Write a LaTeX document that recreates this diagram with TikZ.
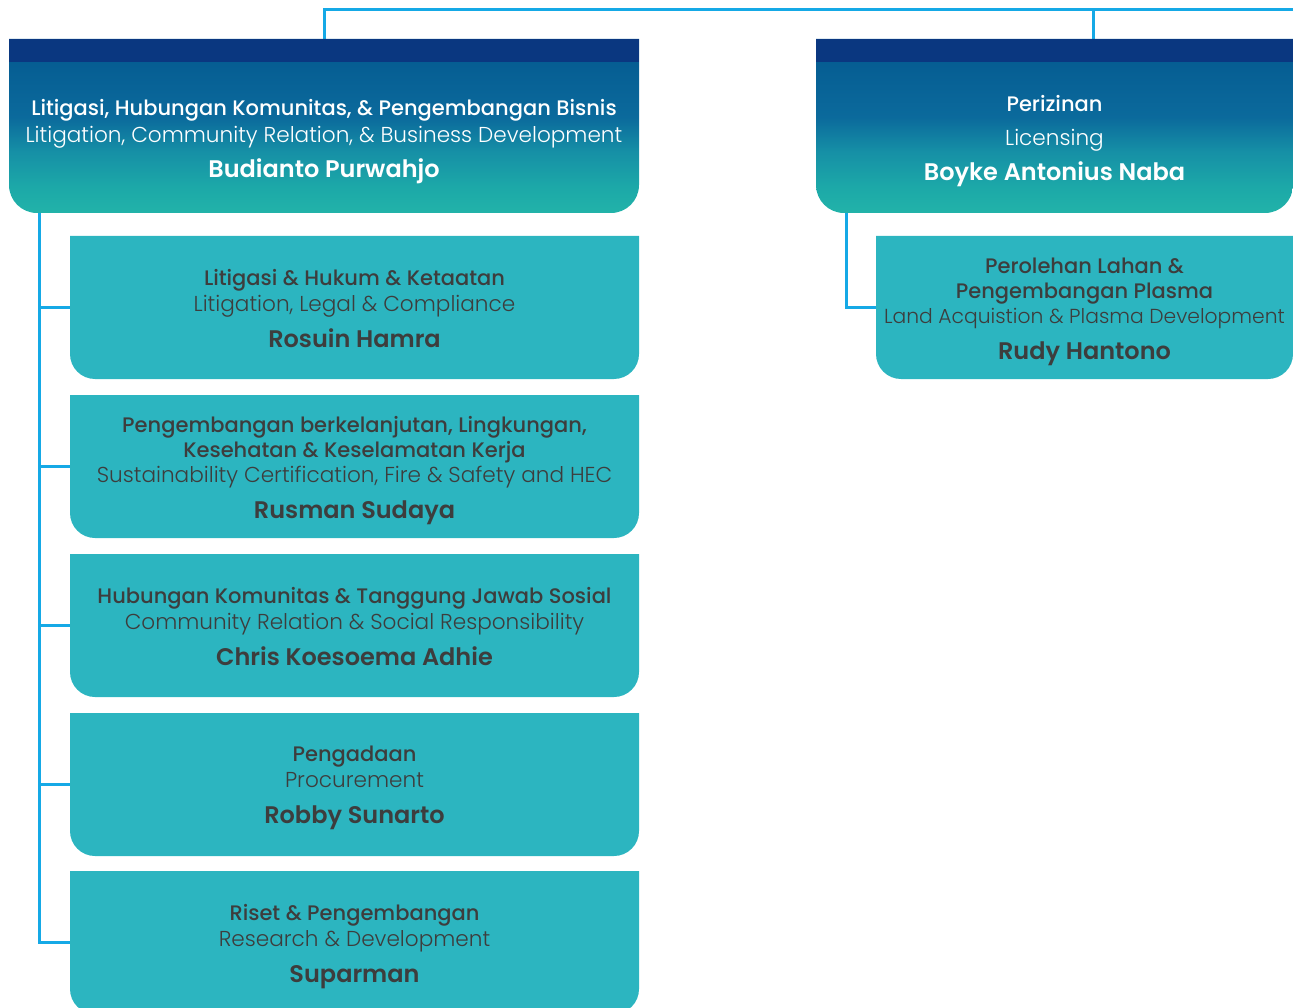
\documentclass[tikz,border=0pt]{standalone}
\usepackage{fontspec}
\newfontfamily\fmed{Poppins Medium}
\newfontfamily\flight{Poppins Light}
\newfontfamily\fbold{Poppins SemiBold}
\definecolor{lineblue}{HTML}{15A9E6}
\definecolor{boxteal}{HTML}{2CB5C0}
\definecolor{txtgray}{HTML}{3D3D3D}
\definecolor{navy}{HTML}{0A3780}
\definecolor{ga}{HTML}{03588F}
\definecolor{gb}{HTML}{0B6A9C}
\definecolor{gc}{HTML}{1690A6}
\definecolor{gd}{HTML}{1CA8A8}
\definecolor{ge}{HTML}{22B3A9}
\pgfdeclareverticalshading{hdrshade}{100bp}{color(0bp)=(ge); color(25bp)=(ge); color(32.6bp)=(gd); color(42.5bp)=(gc); color(52.5bp)=(gb); color(75bp)=(ga); color(100bp)=(ga)}
\newcommand\botround[3]{\path[#3] (#1.north west) -- (#1.north east) -- ([yshift=#2]#1.south east) arc[start angle=0,end angle=-90,radius=#2] -- ([xshift=#2]#1.south west) arc[start angle=-90,end angle=-180,radius=#2] -- cycle;}
\tikzset{
  conn/.style={draw=lineblue, line width=3pt},
  boxnode/.style 2 args={inner sep=0pt, outer sep=0pt, minimum width=#1, minimum height=#2},
  tone/.style={anchor=base, font=\fmed\fontsize{21}{21}\selectfont},
  ttwo/.style={anchor=base, font=\flight\fontsize{21.6}{21.6}\selectfont},
  tname/.style={anchor=base, font=\fbold\fontsize{24}{24}\selectfont},
}
\begin{document}
\begin{tikzpicture}[x=1pt,y=1pt]
\useasboundingbox (0,0) rectangle (1293,-1008);
% box nodes
\node[boxnode={630pt}{174pt}] (hL) at (324,-126) {};
\node[boxnode={477pt}{174pt}] (hR) at (1054.5,-126) {};
\node[boxnode={569pt}{143pt}] (c1) at (354.5,-307.5) {};
\node[boxnode={569pt}{143pt}] (c2) at (354.5,-466.5) {};
\node[boxnode={569pt}{143pt}] (c3) at (354.5,-625.5) {};
\node[boxnode={569pt}{143pt}] (c4) at (354.5,-784.5) {};
\node[boxnode={569pt}{143pt}] (c5) at (354.5,-942.5) {};
\node[boxnode={417pt}{143pt}] (r1) at (1084.5,-307.5) {};
\coordinate (topR) at (1293,-10);
\coordinate (spineL) at ([xshift=30pt]hL.south west);
\coordinate (spineR) at ([xshift=30pt]hR.south west);
% connectors
\draw[conn] (hL.north) |- (topR);
\draw[conn] ([xshift=38.5pt]hR.north) -- ([xshift=38.5pt]hR.north |- topR);
\draw[conn] (spineL) |- (c5.west);
\foreach \i in {1,2,3,4} \draw[conn] (spineL |- c\i.west) -- (c\i.west);
\draw[conn] (spineR) |- (r1.west);
% shapes
\botround{hL}{28pt}{shading=hdrshade}
\botround{hR}{28pt}{shading=hdrshade}
\fill[navy] (hL.north west) rectangle ([yshift=-23pt]hL.north east);
\fill[navy] (hR.north west) rectangle ([yshift=-23pt]hR.north east);
\foreach \b in {c1,c2,c3,c4,c5,r1} {\botround{\b}{25pt}{fill=boxteal}}
% header texts
\node[tone, white] (hL1) at (324,-115.5) {Litigasi, Hubungan Komunitas, \& Pengembangan Bisnis};
\node[ttwo, white] (hL2) at (324,-142.2) {Litigation, Community Relation, \& Business Development};
\node[tname, white] (hL3) at (324,-177.5) {Budianto Purwahjo};
\node[tone, white] (hR1) at (1054.5,-111.5) {Perizinan};
\node[ttwo, white] (hR2) at (1054.5,-145.5) {Licensing};
\node[tname, white] (hR3) at (1054.5,-180.5) {Boyke Antonius Naba};
% child texts
\node[tone, txtgray] (c1a) at (354.5,-285.5) {Litigasi \& Hukum \& Ketaatan};
\node[ttwo, txtgray] (c1b) at (354.5,-311.5) {Litigation, Legal \& Compliance};
\node[tname, txtgray] (c1c) at (354.5,-347.5) {Rosuin Hamra};
\node[tone, txtgray] (c2a) at (354.5,-432.2) {Pengembangan berkelanjutan, Lingkungan,};
\node[tone, txtgray] (c2b) at (354.5,-457.2) {Kesehatan \& Keselamatan Kerja};
\node[ttwo, txtgray] (c2c) at (354.5,-482.2) {Sustainability Certification, Fire \& Safety and HEC};
\node[tname, txtgray] (c2d) at (354.5,-518.8) {Rusman Sudaya};
\node[tone, txtgray] (c3a) at (354.5,-603.5) {Hubungan Komunitas \& Tanggung Jawab Sosial};
\node[ttwo, txtgray] (c3b) at (354.5,-629.5) {Community Relation \& Social Responsibility};
\node[tname, txtgray] (c3c) at (354.5,-665.5) {Chris Koesoema Adhie};
\node[tone, txtgray] (c4a) at (354.5,-761.5) {Pengadaan};
\node[ttwo, txtgray] (c4b) at (354.5,-787.5) {Procurement};
\node[tname, txtgray] (c4c) at (354.5,-823.5) {Robby Sunarto};
\node[tone, txtgray] (c5a) at (354.5,-920.5) {Riset \& Pengembangan};
\node[ttwo, txtgray] (c5b) at (354.5,-946.5) {Research \& Development};
\node[tname, txtgray] (c5c) at (354.5,-982.5) {Suparman};
\node[tone, txtgray] (r1a) at (1084.5,-273.2) {Perolehan Lahan \&};
\node[tone, txtgray] (r1b) at (1084.5,-298.2) {Pengembangan Plasma};
\node[ttwo, txtgray, font=\flight\fontsize{20.3}{20.3}\selectfont] (r1c) at (1084.5,-323.2) {Land Acquistion \& Plasma Development};
\node[tname, txtgray] (r1d) at (1084.5,-359.8) {Rudy Hantono};
\end{tikzpicture}
\end{document}
